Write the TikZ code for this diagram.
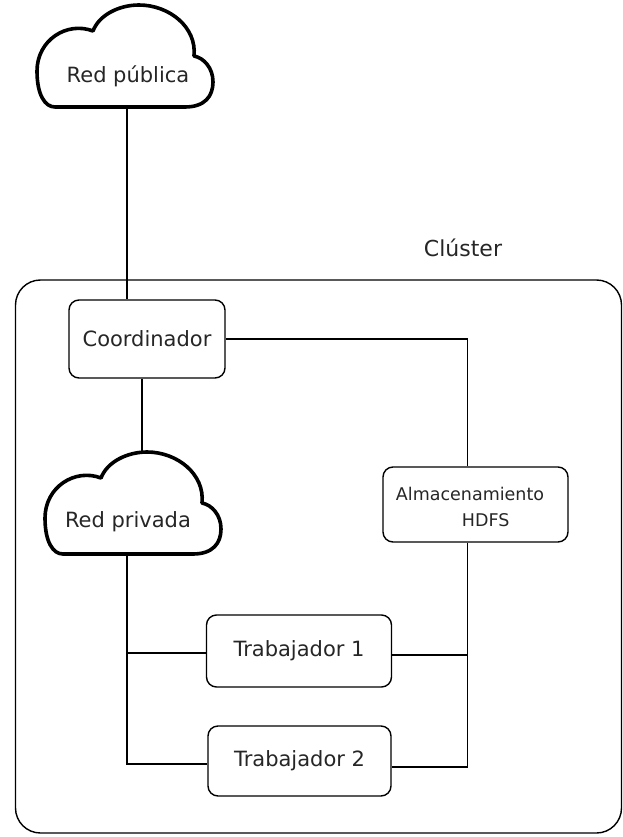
\documentclass[tikz,border=0pt]{standalone}
\usepackage{fontspec}
\setmainfont{DejaVu Sans}
\begin{document}
\begin{tikzpicture}[x=1pt,y=-1pt,
  box/.style={draw, line width=1.4pt, rounded corners=10pt, inner sep=0pt},
  conn/.style={line width=1.4pt},
  cloudline/.style={line width=3.6pt, line join=round},
  lbl/.style={font=\fontsize{21}{25}\selectfont, text=black!85},
  anchornode/.style={inner sep=0pt, minimum width=176pt, minimum height=104pt}]
\useasboundingbox (0,0) rectangle (623,837);
\newcommand{\mycloud}{(18,102) -- (148,102) .. controls (168,102) and (176,91) .. (176,77) .. controls (176,63) and (167,53) .. (157,51) .. controls (160,22) and (132,0) .. (102,0) .. controls (82,0) and (62,10) .. (56,26) .. controls (30,16) and (0,35) .. (0,66) .. controls (0,90) and (8,102) .. (18,102) -- cycle}
% cluster
\node[draw, line width=1.4pt, rounded corners=25pt, minimum width=606pt, minimum height=553pt, inner sep=0pt] (cluster) at (318.5,556.5) {};
\node[lbl, font=\fontsize{22}{26}\selectfont] (clab) at (463,248) {Clúster};
% clouds
\begin{scope}[shift={(37,5)}]
  \draw[cloudline] \mycloud;
\end{scope}
\node[anchornode] (pub) at (127,57) {};
\node[lbl] (pubtxt) at (128,76) {Red pública};
\begin{scope}[shift={(45,452)}]
  \draw[cloudline] \mycloud;
\end{scope}
\node[anchornode] (priv) at (142,504) {};
\node[lbl] (privtxt) at (128,522) {Red privada};
% boxes
\node[box, lbl, minimum width=156pt, minimum height=78pt] (coord) at (147,339) {Coordinador};
\node[box, minimum width=185pt, minimum height=75pt] (alm) at (475.5,504.5) {};
\node[lbl, font=\fontsize{17.5}{26}\selectfont, align=left] (almtxt) at (470,507) {Almacenamiento\\\hspace*{66pt}HDFS};
\node[box, lbl, minimum width=185pt, minimum height=72pt] (trab1) at (299,651) {Trabajador 1};
\node[box, lbl, minimum width=183pt, minimum height=70pt] (trab2) at (299.5,761) {Trabajador 2};
% connectors
\draw[conn] (pub.south) -- (pub.south |- coord.north);
\draw[conn] ([xshift=-5pt]coord.south) -- ([xshift=-5pt]coord.south |- priv.north);
\draw[conn] (coord.east) -| ([xshift=-8pt]alm.north);
\draw[conn] ([xshift=-15pt]priv.south) |- ([yshift=-3pt]trab2.west);
\draw[conn] ([yshift=-2pt]trab1.west) -| ([xshift=-15pt]priv.south);
\draw[conn] ([xshift=-8pt]alm.south) |- ([yshift=-6pt]trab2.east);
\draw[conn] ([yshift=-4pt]trab1.east) -| ([xshift=-8pt]alm.south);
\end{tikzpicture}
\end{document}
